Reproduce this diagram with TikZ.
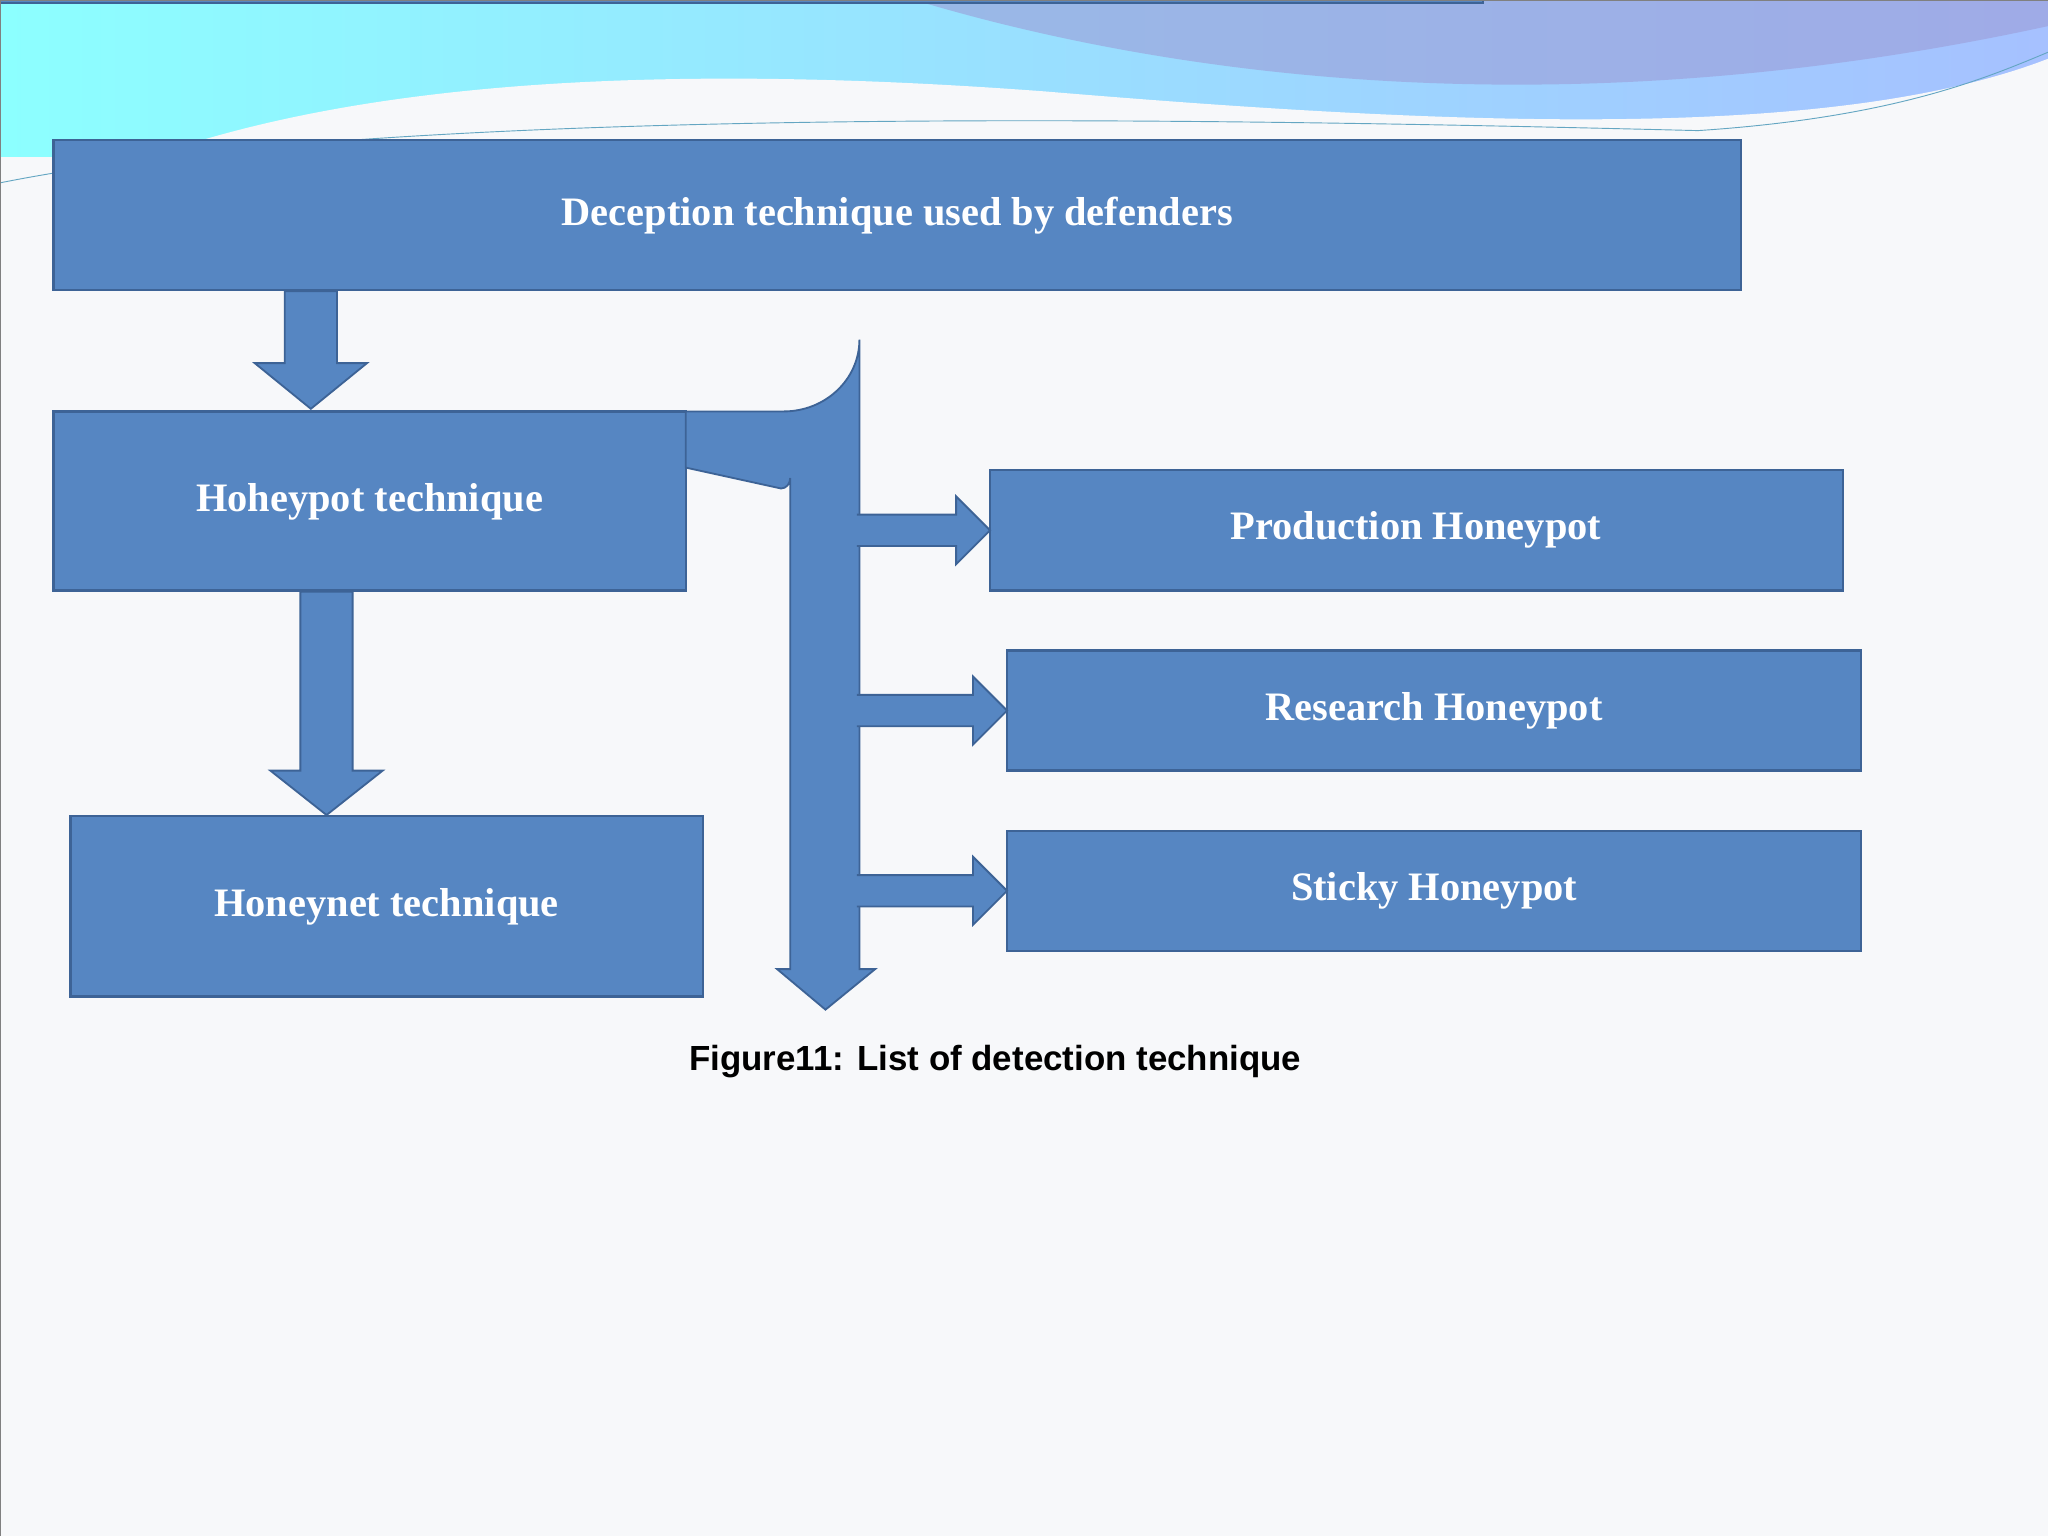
\documentclass[tikz,border=0pt]{standalone}
\usepackage{fontspec}
\setmainfont{Liberation Serif}
\newfontfamily\capfont{Liberation Sans}
\definecolor{boxfill}{HTML}{5686C2}
\definecolor{boxline}{HTML}{3D6396}
\definecolor{bgc}{HTML}{F7F8FA}
\tikzset{
 bx/.style={draw=boxline,line width=2.5pt,fill=boxfill,text=white,font=\fontsize{44}{50}\selectfont\bfseries},
 ar/.style={draw=boxline,line width=2pt,fill=boxfill}
}
\begin{document}
\begin{tikzpicture}[x=0.5mm,y=-0.5mm]
\useasboundingbox (0,0) rectangle (1568,1176);
\fill[bgc] (0,0) rectangle (1568,1176);
\shade[left color=cyan!45,right color=cyan!30!blue!35] (0,0) rectangle (1568,120);
\fill[cyan!20!blue!40,opacity=0.6] (700,0) .. controls (900,60) and (1200,100) .. (1568,20) -- (1568,0) -- cycle;
\fill[bgc] (0,175) .. controls (150,80) and (400,40) .. (800,70) .. controls (1100,95) and (1400,110) .. (1568,45) -- (1568,1176) -- (0,1176) -- cycle;
\draw[cyan!50!gray,line width=1pt] (0,140) .. controls (300,80) and (900,90) .. (1300,100) .. controls (1450,90) and (1520,60) .. (1568,40);
\node[bx,minimum width=1292\pgflinewidth] (top) at (0,0) {};
\path[bx] (41,107) rectangle (1333,222);
\node[font=\fontsize{44}{50}\selectfont\bfseries,text=white] (t1) at (687,165) {Deception technique used by defenders};
\path[bx] (41,315) rectangle (525,452);
\node[font=\fontsize{44}{50}\selectfont\bfseries,text=white] (t2) at (283,384) {Hoheypot technique};
\path[bx] (54,625) rectangle (538,763);
\node[font=\fontsize{44}{50}\selectfont\bfseries,text=white] (t3) at (296,694) {Honeynet technique};
\path[bx] (758,360) rectangle (1411,452);
\node[font=\fontsize{44}{50}\selectfont\bfseries,text=white] (t4) at (1084,406) {Production Honeypot};
\path[bx] (771,498) rectangle (1425,590);
\node[font=\fontsize{44}{50}\selectfont\bfseries,text=white] (t5) at (1098,544) {Research Honeypot};
\path[bx] (771,636) rectangle (1425,728);
\node[font=\fontsize{44}{50}\selectfont\bfseries,text=white] (t6) at (1098,682) {Sticky Honeypot};
% down arrows
\draw[ar] (218,223) -- (258,223) -- (258,278) -- (281,278) -- (238,313) -- (195,278) -- (218,278) -- cycle;
\draw[ar] (230,453) -- (270,453) -- (270,590) -- (293,590) -- (250,624) -- (207,590) -- (230,590) -- cycle;
% bent arrow
\draw[ar] (525,315) -- (600,315) arc[start angle=-90,end angle=0,x radius=58,y radius=-55] -- (658,742) -- (670,742) -- (632,773) -- (595,742) -- (605,742) -- (605,366) arc[start angle=0,end angle=-90,x radius=7,y radius=-8] -- (525,358) -- cycle;
% side arrows
\foreach \y/\x in {406/758,544/771,682/771}{
 \draw[ar] (656,\y-12) -- (\x-26,\y-12) -- (\x-26,\y-26) -- (\x,\y) -- (\x-26,\y+26) -- (\x-26,\y+12) -- (656,\y+12);
}
\node[font=\capfont\fontsize{38}{44}\selectfont\bfseries] (cap) at (762,813) {Figure11: List of detection technique};
\draw[gray,line width=1pt] (0,0) rectangle (1568,1176);
\end{tikzpicture}
\end{document}
